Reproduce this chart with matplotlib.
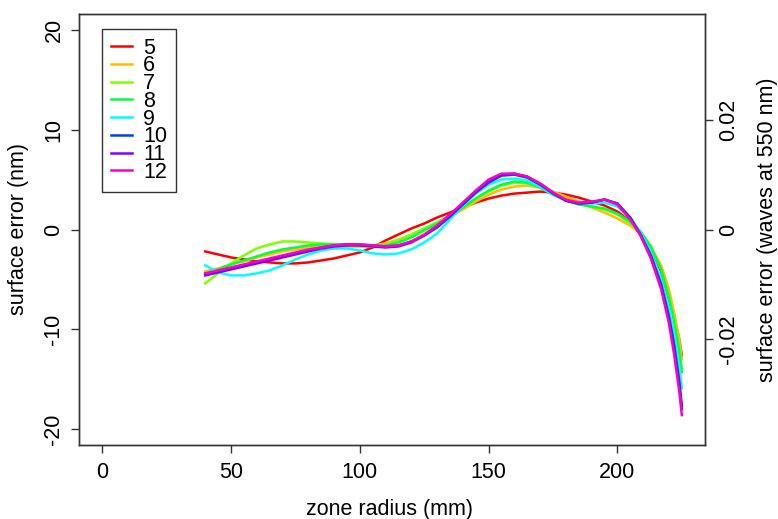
import matplotlib
matplotlib.use('Agg')
import matplotlib.pyplot as plt

plt.rcParams['font.family'] = ['Liberation Sans', 'DejaVu Sans']
plt.rcParams['axes.unicode_minus'] = False

# zone radius (mm), shared by all series
radius = [40, 45, 50, 55, 60, 65, 70, 75, 80, 85, 90, 95, 100, 105, 110, 115, 120, 125,
          130, 135, 140, 145, 150, 155, 160, 165, 170, 175, 180, 185, 190, 195, 200,
          205, 209, 213, 217, 220, 222, 224, 225]

# surface error (nm) for each run
err_5 = [-2.2, -2.5, -2.8, -3.0, -3.2, -3.3, -3.4, -3.4, -3.3, -3.1, -2.9, -2.6, -2.3, -1.8,
         -1.1, -0.5, 0.1, 0.6, 1.2, 1.7, 2.2, 2.7, 3.1, 3.4, 3.6, 3.7, 3.8, 3.7, 3.5, 3.2,
         2.8, 2.4, 1.8, 0.8, -0.3, -1.9, -4.2, -7.0, -8.8, -11.0, -12.6]
err_6 = [-4.2, -3.9, -3.5, -3.2, -2.8, -2.5, -2.2, -2.0, -1.8, -1.7, -1.7, -1.7, -1.7, -1.6,
         -1.4, -1.0, -0.5, 0.1, 0.7, 1.3, 2.0, 2.8, 3.5, 4.0, 4.3, 4.4, 4.2, 3.8, 3.3, 2.8,
         2.2, 1.7, 1.1, 0.4, -0.4, -1.8, -3.6, -6.0, -8.3, -11.0, -13.0]
err_7 = [-5.4, -4.4, -3.4, -2.6, -1.9, -1.5, -1.2, -1.2, -1.3, -1.4, -1.5, -1.6, -1.7, -1.7,
         -1.5, -1.1, -0.5, 0.1, 0.7, 1.4, 2.2, 3.1, 3.8, 4.4, 4.7, 4.6, 4.2, 3.6, 3.0, 2.6,
         2.3, 2.0, 1.5, 0.6, -0.3, -1.8, -4.0, -6.8, -9.0, -12.0, -14.0]
err_8 = [-4.4, -4.0, -3.5, -3.1, -2.7, -2.3, -2.0, -1.8, -1.6, -1.5, -1.5, -1.5, -1.6, -1.7,
         -1.6, -1.3, -0.8, -0.1, 0.6, 1.3, 2.2, 3.1, 3.9, 4.5, 4.8, 4.7, 4.2, 3.5, 2.9, 2.5,
         2.3, 2.1, 1.6, 0.8, -0.2, -1.7, -4.0, -6.8, -9.2, -12.2, -14.3]
err_9 = [-3.6, -4.3, -4.6, -4.6, -4.4, -4.1, -3.6, -3.0, -2.5, -2.1, -1.9, -1.9, -2.1, -2.4,
         -2.5, -2.4, -2.0, -1.3, -0.4, 1.0, 2.4, 3.6, 4.5, 5.0, 5.1, 4.9, 4.3, 3.5, 2.9, 2.6,
         2.6, 2.7, 2.3, 1.2, -0.3, -2.3, -5.0, -8.0, -10.5, -13.8, -15.9]
err_10 = [-4.5, -4.2, -3.9, -3.6, -3.3, -3.0, -2.7, -2.4, -2.1, -1.8, -1.6, -1.5, -1.5, -1.6,
          -1.7, -1.6, -1.2, -0.6, 0.2, 1.3, 2.5, 3.7, 4.7, 5.4, 5.5, 5.2, 4.5, 3.6, 2.9, 2.6,
          2.7, 3.0, 2.6, 1.2, -0.5, -2.6, -5.5, -8.7, -11.5, -15.2, -17.7]
err_11 = [-4.6, -4.3, -4.0, -3.7, -3.4, -3.1, -2.8, -2.5, -2.2, -1.9, -1.7, -1.6, -1.6, -1.7,
          -1.8, -1.7, -1.3, -0.6, 0.3, 1.4, 2.6, 3.8, 4.8, 5.5, 5.6, 5.3, 4.6, 3.7, 2.9, 2.6,
          2.7, 3.0, 2.6, 1.1, -0.6, -2.8, -5.8, -9.0, -12.0, -15.6, -18.0]
err_12 = [-4.4, -4.1, -3.8, -3.5, -3.2, -2.9, -2.6, -2.3, -2.0, -1.8, -1.6, -1.5, -1.5, -1.6,
          -1.7, -1.6, -1.2, -0.5, 0.4, 1.5, 2.7, 3.9, 5.0, 5.6, 5.6, 5.3, 4.6, 3.7, 3.0, 2.7,
          2.8, 3.0, 2.5, 1.0, -0.6, -2.9, -6.0, -9.4, -12.5, -16.2, -18.6]

labels = ['5', '6', '7', '8', '9', '10', '11', '12']
colors = ['#FF0000', '#FFBF00', '#80FF00', '#00FF40', '#00FFFF', '#0040FF', '#8000FF', '#FF00BF']
series = [err_5, err_6, err_7, err_8, err_9, err_10, err_11, err_12]

fig = plt.figure(figsize=(7.78, 5.19), dpi=100)
ax = fig.add_axes([79 / 778, 74 / 519, 626 / 778, 431 / 519])

for y, c, lab in zip(series, colors, labels):
    ax.plot(radius, y, color=c, lw=1.8, label=lab)

ax.set_xlim(-9, 234)
ax.set_ylim(-21.6, 21.6)
ax.set_xticks([0, 50, 100, 150, 200])
ax.set_yticks([-20, -10, 0, 10, 20])
ax.tick_params(labelsize=15.5, length=6, width=1, color='#333333', direction='out')
ax.tick_params(axis='x', pad=6.5)
ax.tick_params(axis='y', pad=4.5)
plt.setp(ax.get_yticklabels(), rotation=90, va='center', ha='right')
for s in ax.spines.values():
    s.set_color('#333333')
    s.set_linewidth(1)

# right axis: waves at 550 nm
ax2 = ax.twinx()
ax2.set_ylim(-21.6 / 550, 21.6 / 550)
ax2.set_yticks([-0.02, 0, 0.02])
ax2.set_yticklabels(['-0.02', '0', '0.02'])
ax2.tick_params(labelsize=15.5, length=6, width=1, color='#333333', pad=3.5)
plt.setp(ax2.get_yticklabels(), rotation=90, va='center', ha='left')
for s in ax2.spines.values():
    s.set_color('#333333')
    s.set_linewidth(1)

leg = ax.legend(loc='upper left', bbox_to_anchor=(23 / 626, 416 / 431), borderaxespad=0,
                fontsize=15.5, frameon=True, fancybox=False, edgecolor='black',
                handlelength=1.0, handletextpad=0.5, labelspacing=-0.15, borderpad=0.4)
leg.get_frame().set_linewidth(1)

fig.text(390 / 778, 1 - 509 / 519, 'zone radius (mm)', ha='center', va='center', fontsize=15.5)
fig.text(19 / 778, 1 - 229.5 / 519, 'surface error (nm)', ha='center', va='center',
         rotation=90, fontsize=15.5)
fig.text(767 / 778, 1 - 229.5 / 519, 'surface error (waves at 550 nm)', ha='center',
         va='center', rotation=90, fontsize=15.5)

fig.savefig('out.png', dpi=100)
